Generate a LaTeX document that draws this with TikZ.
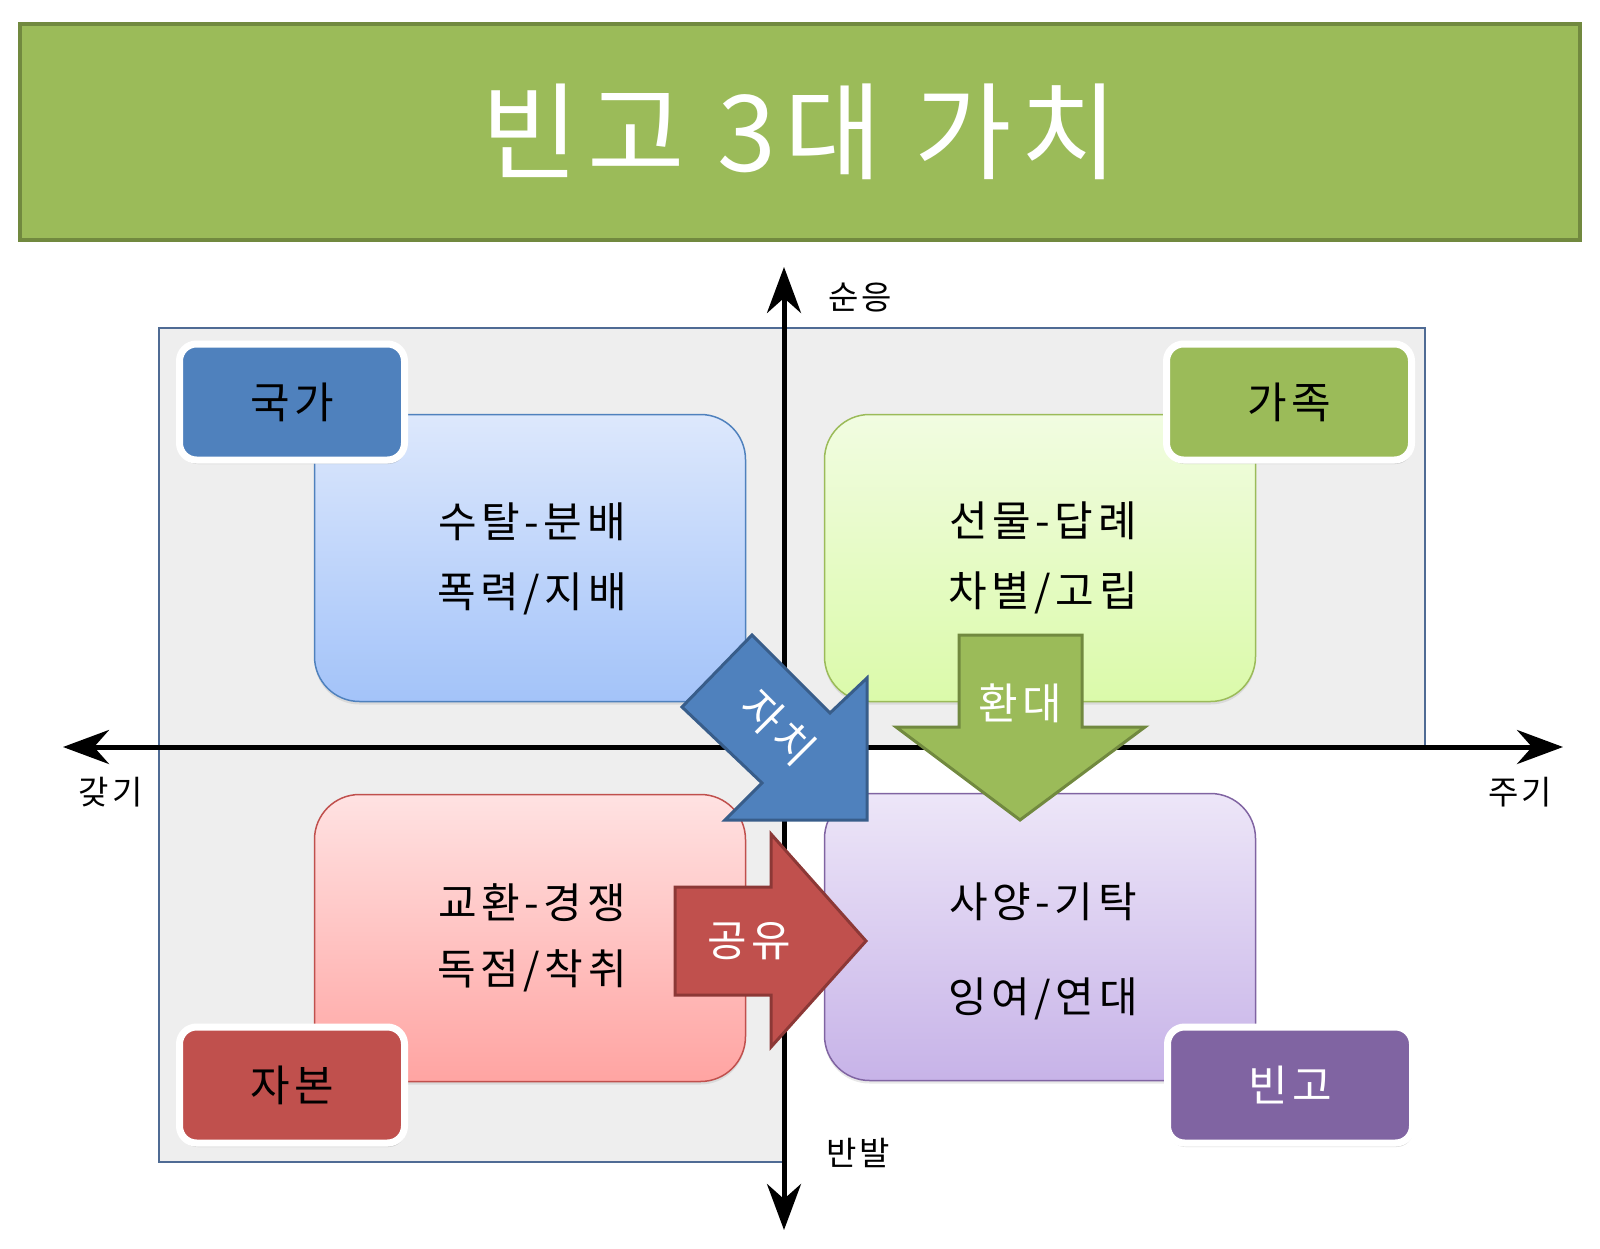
\documentclass[tikz,border=0pt]{standalone}
\usepackage{xcolor}
\usepackage{fontspec}
\setmainfont{Noto Sans CJK KR}
\newfontfamily\titlefont[LetterSpace=8]{Noto Sans CJK KR}
\newfontfamily\boxfont[LetterSpace=11]{Noto Sans CJK KR}
\newfontfamily\tagfont[LetterSpace=10]{Noto Sans CJK KR}
\usepackage{tikz}
\usetikzlibrary{arrows.meta}
\usetikzlibrary{positioning, shadows, backgrounds}
\definecolor{bannerfill}{HTML}{9BBB59}
\definecolor{bannerline}{HTML}{71893F}
\definecolor{panelfill}{HTML}{EEEEEE}
\definecolor{panelline}{HTML}{4F6B94}
\definecolor{statefill}{HTML}{4F81BD}
\definecolor{stateline}{HTML}{385D8A}
\definecolor{familyfill}{HTML}{9BBB59}
\definecolor{familyline}{HTML}{71893F}
\definecolor{capitalfill}{HTML}{C0504D}
\definecolor{capitalline}{HTML}{8C3836}
\definecolor{bingofill}{HTML}{8064A2}
\definecolor{bingoline}{HTML}{5C4776}
\definecolor{bluetop}{HTML}{DDE8FC}
\definecolor{bluebottom}{HTML}{A3C3F9}
\definecolor{greentop}{HTML}{F1FCE1}
\definecolor{greenbottom}{HTML}{DBFAAA}
\definecolor{redtop}{HTML}{FFE2E2}
\definecolor{redbottom}{HTML}{FFA4A2}
\definecolor{purpletop}{HTML}{EDE6F8}
\definecolor{purplebottom}{HTML}{C7B3E8}
\tikzset{
banner/.style = { rectangle, draw = bannerline, fill = bannerfill, line width = 4pt, minimum width = 1560pt, minimum height = 216pt, text = white, font = \titlefont\fontsize{106}{110}\selectfont },
panel/.style = { draw = panelline, fill = panelfill, line width = 1.5pt },
axis/.style = { line width = 5pt, {Stealth[length = 46pt, width = 34pt, inset = 15pt]}-{Stealth[length = 46pt, width = 34pt, inset = 15pt]} },
axis label/.style = { font = \tagfont\fontsize{33}{36}\selectfont, inner sep = 0pt },
value box/.style args = {#1, #2, #3}{ rectangle, rounded corners = 45pt, draw = #1, top color = #2, bottom color = #3, line width = 1.5pt, minimum width = 431pt, minimum height = 287pt, drop shadow = {opacity = 0.18, shadow xshift = 0pt, shadow yshift = -3pt} },
value text/.style = { align = center, inner sep = 0pt },
tag/.style args = {#1, #2}{ rectangle, rounded corners = 17pt, draw = white, line width = 7pt, fill = #1, text = #2, minimum height = 116pt, font = \tagfont\fontsize{43}{50}\selectfont, drop shadow = {opacity = 0.3, shadow xshift = 1pt, shadow yshift = -4pt} },
block/.style args = {#1, #2}{ draw = #2, fill = #1, line width = 3pt },
block text/.style = { text = white, inner sep = 0pt, font = \tagfont\fontsize{43}{46}\selectfont },
}
\begin{document}
\begin{tikzpicture}[x=1pt, y=-1pt]
  \useasboundingbox (0,0) rectangle (1600,1249);
  \node[banner] (title) at (800,132) {빈고 3대 가치};
  % quadrant panels
  \path[panel] (159,328) rectangle (784,1162);
  \path[panel] (784,328) rectangle (1425,748);
  \coordinate (north) at (784,267);
  \coordinate (south) at (784,1230);
  \coordinate (west) at (63,747);
  \coordinate (east) at (1563,747);
  \draw[axis] (south) -- (north);
  \draw[axis] (west) -- (east);
  \node[axis label] (obey) at (860,298) {순응};
  \node[axis label] (resist) at (858,1153) {반발};
  \node[axis label] (take) at (111,792) {갖기};
  \node[axis label] (give) at (1520,792) {주기};
  \node[value box = {statefill, bluetop, bluebottom}] (extract) at (530,558) {};
  \node[value box = {familyfill, greentop, greenbottom}] (gift) at (1040,558) {};
  \node[value box = {capitalfill, redtop, redbottom}] (exchange) at (530,938) {};
  \node[value box = {bingofill, purpletop, purplebottom}] (deposit) at (1040,937) {};
  \begin{scope}[every node/.style = {value text}]
    \node[font = \boxfont\fontsize{42}{70}\selectfont] (t1) at (532,559) {수탈-분배\\폭력/지배};
    \node[font = \boxfont\fontsize{42}{70}\selectfont] (t2) at (1043,558) {선물-답례\\차별/고립};
    \node[font = \boxfont\fontsize{42}{66}\selectfont] (t3) at (532,938) {교환-경쟁\\독점/착취};
    \node[font = \boxfont\fontsize{42}{95}\selectfont] (t4) at (1043,951) {사양-기탁\\잉여/연대};
  \end{scope}
  \node[tag = {statefill, black}, minimum width = 225pt] (state) at (292,402) {국가};
  \node[tag = {familyfill, black}, minimum width = 245pt] (family) at (1289,402) {가족};
  \node[tag = {capitalfill, black}, minimum width = 225pt] (capital) at (292,1085) {자본};
  \node[tag = {bingofill, white}, minimum width = 245pt] (bingo) at (1290,1085) {빈고};
  % block arrows
  \draw[block = {statefill, stateline}] (752,635) -- (830,713) -- (867,678) -- (867,820) -- (725,820) -- (762,783) -- (682,707) -- cycle;
  \draw[block = {familyfill, familyline}] (959,635) -- (1082,635) -- (1082,727) -- (1145,727) -- (1020,820) -- (896,727) -- (959,727) -- cycle;
  \draw[block = {capitalfill, capitalline}] (675,887) -- (771,887) -- (771,834) -- (866,941) -- (771,1047) -- (771,995) -- (675,995) -- cycle;
  \node[block text, rotate = -45] (autonomy) at (778,728) {자치};
  \node[block text] (hospitality) at (1020,703) {환대};
  \node[block text] (sharing) at (749,941) {공유};
\end{tikzpicture}
\end{document}
